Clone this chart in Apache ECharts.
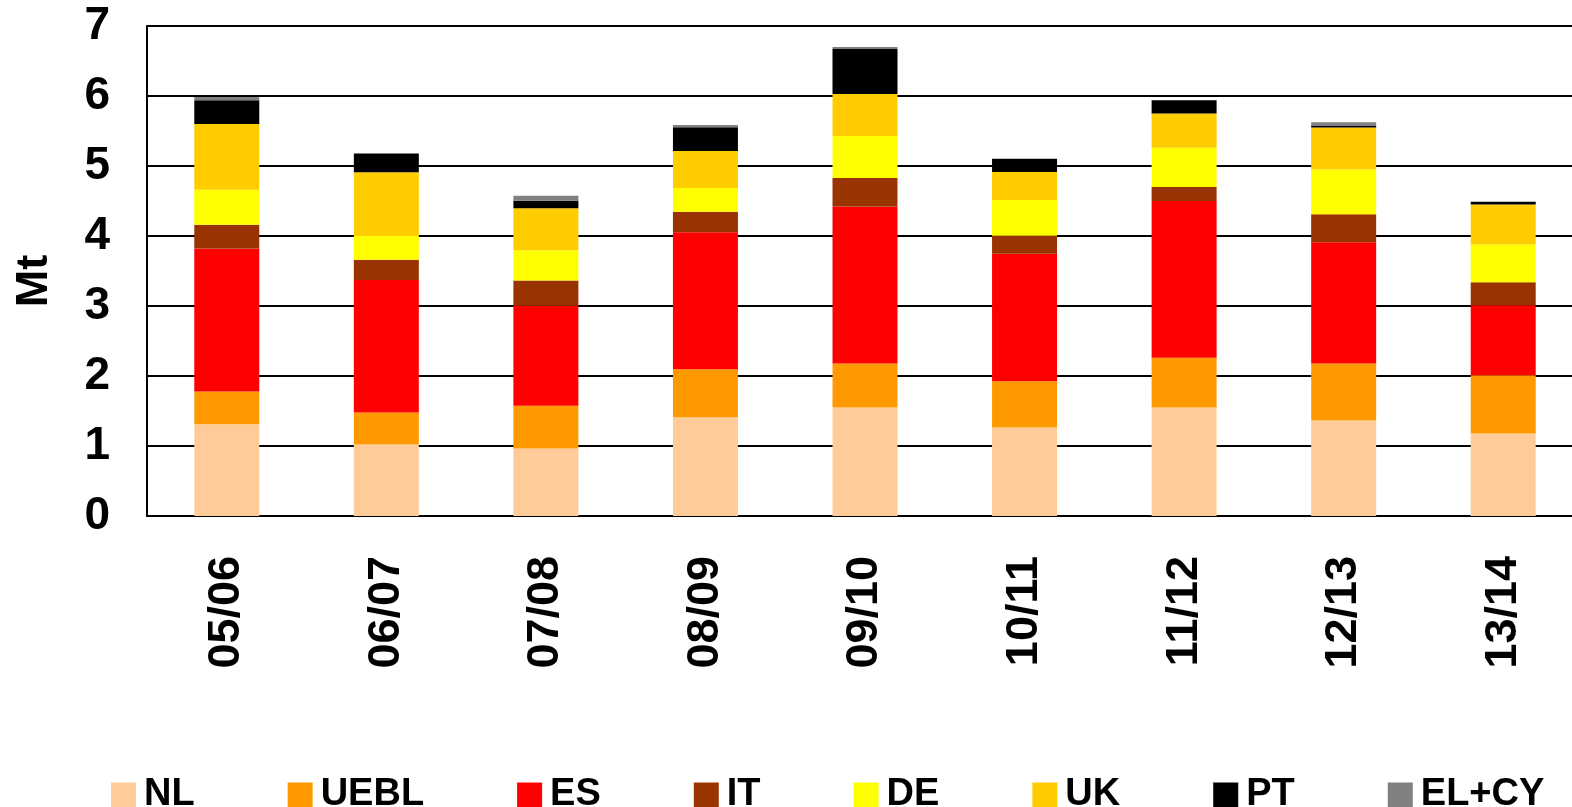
<!DOCTYPE html>
<html>
<head>
<meta charset="utf-8">
<script src="https://cdn.jsdelivr.net/npm/echarts@6/dist/echarts.min.js"></script>
<style>
  html, body { margin: 0; padding: 0; background: #fff; }
  #myChart { width: 1572px; height: 807px; }
</style>
</head>
<body>
<div id="myChart"></div>
<script>
// 年度
var seasons = ['05/06', '06/07', '07/08', '08/09', '09/10', '10/11', '11/12', '12/13', '13/14']
var yTicks = [0, 1, 2, 3, 4, 5, 6, 7]

// 各国数据 (Mt)
var nlData = [1.31, 1.02, 0.965, 1.41, 1.55, 1.265, 1.55, 1.365, 1.18]
var ueblData = [0.47, 0.46, 0.61, 0.685, 0.63, 0.66, 0.71, 0.815, 0.83]
var esData = [2.04, 1.89, 1.43, 1.96, 2.24, 1.82, 2.24, 1.73, 1.00]
var itData = [0.34, 0.29, 0.36, 0.29, 0.41, 0.26, 0.20, 0.40, 0.33]
var deData = [0.50, 0.34, 0.43, 0.34, 0.60, 0.51, 0.56, 0.64, 0.54]
var ukData = [0.94, 0.91, 0.60, 0.53, 0.60, 0.40, 0.49, 0.60, 0.57]
var ptData = [0.34, 0.27, 0.11, 0.34, 0.64, 0.19, 0.19, 0.03, 0.04]
var elcyData = [0.045, 0, 0.07, 0.03, 0.03, 0, 0, 0.045, 0]

var seriesNames = ['NL', 'UEBL', 'ES', 'IT', 'DE', 'UK', 'PT', 'EL+CY']
var seriesValues = [nlData, ueblData, esData, itData, deData, ukData, ptData, elcyData]
var seriesColors = ['#FFCC99', '#FF9900', '#FF0000', '#993300', '#FFFF00', '#FFCC00', '#000000', '#808080']

var font = 'Liberation Sans, Arial, sans-serif'

var series = []
for (var i = 0; i < seriesNames.length; i++) {
  series.push({
    name: seriesNames[i],
    type: 'bar',
    stack: 'total',
    barWidth: 65,
    itemStyle: { color: seriesColors[i] },
    data: seriesValues[i]
  })
}

var myChart = echarts.init(document.getElementById('myChart'))
myChart.setOption({
  animation: false,
  backgroundColor: '#fff',
  // 图表右边被裁掉了一点，所以网格比画布宽
  grid: {
    left: 147,
    top: 26,
    width: 1436,
    height: 490,
    containLabel: false,
    outerBoundsMode: 'none'
  },
  legend: {
    data: seriesNames,
    left: 106,
    top: 771,
    itemWidth: 25,
    itemHeight: 25,
    itemGap: 93,
    icon: 'rect',
    textStyle: {
      fontFamily: font,
      fontSize: 38,
      fontWeight: 'bold',
      color: '#000',
      padding: [0, 0, 0, 3]
    }
  },
  xAxis: {
    type: 'category',
    data: seasons,
    axisLine: { lineStyle: { color: '#000', width: 2 } },
    axisTick: { show: false },
    axisLabel: {
      interval: 0,
      rotate: 90,
      margin: 40,
      fontFamily: font,
      fontSize: 45,
      fontWeight: 'bold',
      color: '#000'
    }
  },
  yAxis: {
    type: 'value',
    min: yTicks[0],
    max: yTicks[yTicks.length - 1],
    interval: 1,
    name: 'Mt',
    nameLocation: 'middle',
    nameRotate: 90,
    nameGap: 90,
    nameTextStyle: {
      fontFamily: font,
      fontSize: 45,
      fontWeight: 'bold',
      color: '#000',
      padding: [0, 20, 0, 0]
    },
    axisLine: { show: true, lineStyle: { color: '#000', width: 2 } },
    axisTick: { show: false },
    axisLabel: {
      margin: 37,
      fontFamily: font,
      fontSize: 46,
      fontWeight: 'bold',
      color: '#000'
    },
    splitLine: { lineStyle: { color: '#000', width: 2 } }
  },
  series: series
})
</script>
</body>
</html>
